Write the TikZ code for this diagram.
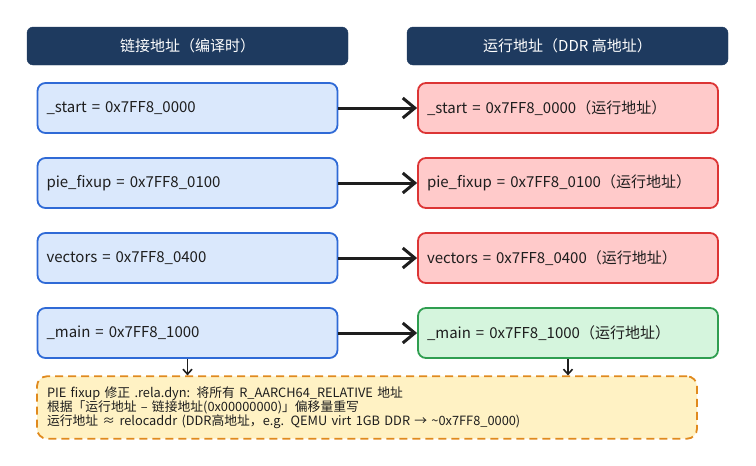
\documentclass[tikz,border=0pt]{standalone}
\usepackage{fontspec}
\setmainfont{Noto Sans CJK SC}
\usetikzlibrary{arrows.meta}

\definecolor{headfill}{HTML}{1E3A5F}
\definecolor{inkgray}{HTML}{1E1E1E}
\definecolor{linkdraw}{HTML}{2F6AD6}
\definecolor{linkfill}{HTML}{DAE8FC}
\definecolor{rundraw}{HTML}{DC3535}
\definecolor{runfill}{HTML}{FFCACA}
\definecolor{maindraw}{HTML}{2F9E50}
\definecolor{mainfill}{HTML}{D5F5DD}
\definecolor{notedraw}{HTML}{E08A1E}
\definecolor{notefill}{HTML}{FFF2C4}

\begin{document}
\begin{tikzpicture}[x=1pt,y=-1pt,
	header/.style={draw=headfill,fill=headfill,rounded corners=6pt,minimum width=321pt,minimum height=38pt,inner sep=0pt,text=white,font=\fontsize{15}{17}\selectfont},
	addrbox/.style={rounded corners=8pt,line width=1.8pt,minimum height=50pt,text width=282pt,inner sep=9pt,align=left,text=inkgray,font=\fontsize{15}{17}\selectfont},
	linkbox/.style={addrbox,draw=linkdraw,fill=linkfill},
	runbox/.style={addrbox,draw=rundraw,fill=runfill},
	mainbox/.style={addrbox,draw=maindraw,fill=mainfill},
	notebox/.style={rounded corners=10pt,line width=1.8pt,dash pattern=on 8pt off 5pt,draw=notedraw,fill=notefill,minimum width=660pt,minimum height=59pt,text width=640pt,inner sep=10pt,align=left,text=inkgray,font=\fontsize{12.8}{13.6}\selectfont},
	flow/.style={draw=inkgray,line width=3pt,-{Straight Barb[length=12pt,width=20pt,line width=3pt]}},
	drop/.style={draw=inkgray,line width=1.6pt,-{Straight Barb[length=5pt,width=9pt,line width=1.6pt]}}]
	
	\useasboundingbox (0,0) rectangle (756,466);
	
	\node[header] (lhead) at (187.5,46) {链接地址（编译时）};
	\node[header] (rhead) at (567.5,46) {运行地址（DDR 高地址）};
	
	\node[linkbox] (lstart) at (187.5,108) {\_start = 0x7FF8\_0000};
	\node[linkbox] (lfix) at (187.5,183) {pie\_fixup = 0x7FF8\_0100};
	\node[linkbox] (lvec) at (187.5,258) {vectors = 0x7FF8\_0400};
	\node[linkbox] (lmain) at (187.5,333) {\_main = 0x7FF8\_1000};
	
	\node[runbox] (rstart) at (568,108) {\_start = 0x7FF8\_0000（运行地址）};
	\node[runbox] (rfix) at (568,183) {pie\_fixup = 0x7FF8\_0100（运行地址）};
	\node[runbox] (rvec) at (568,258) {vectors = 0x7FF8\_0400（运行地址）};
	\node[mainbox] (rmain) at (568,333) {\_main = 0x7FF8\_1000（运行地址）};
	
	\node[notebox] (fix) at (367,407.5) {PIE fixup 修正 .rela.dyn: 将所有 R\_AARCH64\_RELATIVE 地址\\
		根据「运行地址 – 链接地址(0x00000000)」偏移量重写\\
		运行地址 ≈ relocaddr (DDR高地址，e.g. QEMU virt 1GB DDR → \textasciitilde 0x7FF8\_0000)};
	
	\draw[flow] (lstart) -- (rstart);
	\draw[flow] (lfix) -- (rfix);
	\draw[flow] (lvec) -- (rvec);
	\draw[flow] (lmain) -- (rmain);
	
	\draw[drop] (lmain) -- (lmain |- fix.north);
	\draw[drop] (rmain) -- (rmain |- fix.north);
\end{tikzpicture}
\end{document}
